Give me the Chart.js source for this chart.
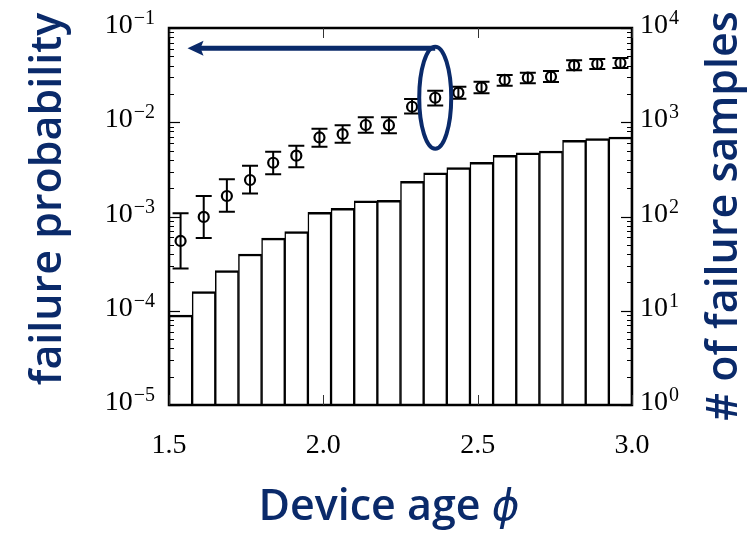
<!DOCTYPE html>
<html>
<head>
<meta charset="utf-8">
<script src="https://cdn.jsdelivr.net/npm/chart.js@4/dist/chart.umd.min.js"></script>
<style>
html,body{margin:0;padding:0;background:#ffffff;}
#wrap{width:751px;height:533px;position:relative;}
</style>
</head>
<body>
<div id="wrap"><canvas id="c" width="751" height="533"></canvas></div>
<script>
// ---- data ----
const binCenters = [1.5375, 1.6125, 1.6875, 1.7625, 1.8375, 1.9125, 1.9875, 2.0625, 2.1375, 2.2125,
                    2.2875, 2.3625, 2.4375, 2.5125, 2.5875, 2.6625, 2.7375, 2.8125, 2.8875, 2.9625];
const sampleCounts = [9, 16, 26.6, 40, 59, 69, 111, 122, 147, 148,
                      236, 290, 330, 376, 446, 475, 495, 643, 669, 697];
const failProb = [5.5e-4, 9.9e-4, 1.65e-3, 2.44e-3, 3.72e-3, 4.42e-3, 6.9e-3, 7.5e-3, 9.35e-3, 9.3e-3,
                  1.46e-2, 1.82e-2, 2.06e-2, 2.35e-2, 2.81e-2, 2.97e-2, 3.04e-2, 4.02e-2, 4.15e-2, 4.25e-2];
const probLow = [2.8e-4, 5.9e-4, 1.12e-3, 1.75e-3, 2.8e-3, 3.33e-3, 5.5e-3, 6.07e-3, 7.75e-3, 7.63e-3,
                 1.24e-2, 1.51e-2, 1.78e-2, 2.03e-2, 2.44e-2, 2.59e-2, 2.67e-2, 3.56e-2, 3.67e-2, 3.76e-2];
const probHigh = [1.08e-3, 1.65e-3, 2.48e-3, 3.46e-3, 4.87e-3, 5.64e-3, 8.55e-3, 9.29e-3, 1.13e-2, 1.13e-2,
                  1.77e-2, 2.16e-2, 2.38e-2, 2.69e-2, 3.17e-2, 3.36e-2, 3.5e-2, 4.54e-2, 4.69e-2, 4.81e-2];
const xTicks = [1.5, 2.0, 2.5, 3.0];
const xTickLabels = ['1.5', '2.0', '2.5', '3.0'];
const probTickExps = [-5, -4, -3, -2, -1];
const countTickExps = [0, 1, 2, 3, 4];
const xTitle = 'Device age ';
const xTitleSymbol = '\u03D5';
const leftTitle = 'failure probability';
const rightTitle = '# of failure samples';
const highlightIndex = 11;      // point circled by the annotation
const arrowTipX = 1.56;         // x value the arrow points to

const NAVY = '#0a2a6a';
const SERIF = '"Liberation Serif", "DejaVu Serif", serif';
const SANS = '"Open Sans", "Noto Sans", sans-serif';
const TITLE_FONT = '600 43px ' + SANS;

function drawPow(ctx, exp, x, y, align) {
  const base = '10';
  const sup = exp < 0 ? '\u2212' + Math.abs(exp) : String(exp);
  ctx.font = '28px ' + SERIF;
  const wb = ctx.measureText(base).width;
  ctx.font = '20px ' + SERIF;
  const ws = ctx.measureText(sup).width;
  let x0 = align === 'right' ? x - wb - ws - 1 : x;
  ctx.textAlign = 'left';
  ctx.textBaseline = 'alphabetic';
  ctx.font = '28px ' + SERIF;
  ctx.fillText(base, x0, y + 5);
  ctx.font = '20px ' + SERIF;
  ctx.fillText(sup, x0 + wb + 1, y - 4);
}

const decorPlugin = {
  id: 'decor',
  afterDatasetsDraw(chart) {
    const ctx = chart.ctx;
    const xs = chart.scales.x, yp = chart.scales.yP;
    ctx.save();
    ctx.strokeStyle = '#000';
    ctx.lineWidth = 2;
    for (let i = 0; i < binCenters.length; i++) {
      const px = xs.getPixelForValue(binCenters[i]);
      const y1 = yp.getPixelForValue(probLow[i]);
      const y2 = yp.getPixelForValue(probHigh[i]);
      ctx.beginPath();
      ctx.moveTo(px, y1); ctx.lineTo(px, y2);
      ctx.moveTo(px - 8, y1); ctx.lineTo(px + 8, y1);
      ctx.moveTo(px - 8, y2); ctx.lineTo(px + 8, y2);
      ctx.stroke();
    }
    ctx.restore();
  },
  afterDraw(chart) {
    const ctx = chart.ctx;
    const a = chart.chartArea;
    const xs = chart.scales.x, yp = chart.scales.yP, yn = chart.scales.yN;
    ctx.save();
    // frame
    ctx.strokeStyle = '#000';
    ctx.lineWidth = 2.5;
    ctx.strokeRect(a.left, a.top, a.right - a.left, a.bottom - a.top);
    // x ticks (inward, bottom & top)
    ctx.lineWidth = 1;
    ctx.strokeStyle = '#333';
    xTicks.forEach(v => {
      const px = Math.round(xs.getPixelForValue(v)) + 0.5;
      ctx.beginPath();
      ctx.moveTo(px, a.bottom); ctx.lineTo(px, a.bottom - 10);
      ctx.moveTo(px, a.top); ctx.lineTo(px, a.top + 10);
      ctx.stroke();
    });
    // log ticks
    function logTicks(scale, exps, xEdge, dir) {
      exps.forEach(e => {
        const major = Math.pow(10, e);
        const py = Math.round(scale.getPixelForValue(major)) + 0.5;
        ctx.lineWidth = 1.2;
        ctx.beginPath(); ctx.moveTo(xEdge, py); ctx.lineTo(xEdge + dir * 11, py); ctx.stroke();
        if (e < exps[exps.length - 1]) {
          for (let k = 2; k <= 9; k++) {
            const pm = Math.round(scale.getPixelForValue(k * major)) + 0.5;
            ctx.lineWidth = 1;
            ctx.beginPath(); ctx.moveTo(xEdge, pm); ctx.lineTo(xEdge + dir * 5, pm); ctx.stroke();
          }
        }
      });
    }
    ctx.strokeStyle = '#000';
    logTicks(yp, probTickExps, a.left, 1);
    logTicks(yn, countTickExps, a.right, -1);
    // tick labels
    ctx.fillStyle = '#000';
    ctx.font = '28px ' + SERIF;
    ctx.textAlign = 'center';
    ctx.textBaseline = 'alphabetic';
    xTicks.forEach((v, i) => ctx.fillText(xTickLabels[i], xs.getPixelForValue(v), a.bottom + 48));
    probTickExps.forEach(e => drawPow(ctx, e, a.left - 14, yp.getPixelForValue(Math.pow(10, e)), 'right'));
    countTickExps.forEach(e => drawPow(ctx, e, a.right + 8, yn.getPixelForValue(Math.pow(10, e)), 'left'));
    // axis titles
    ctx.fillStyle = NAVY;
    ctx.font = TITLE_FONT;
    ctx.textAlign = 'center';
    ctx.textBaseline = 'alphabetic';
    ctx.save();
    ctx.translate(61, 199);
    ctx.rotate(-Math.PI / 2);
    ctx.fillText(leftTitle, 0, 0);
    ctx.restore();
    ctx.save();
    ctx.translate(737, 216);
    ctx.rotate(-Math.PI / 2);
    ctx.fillText(rightTitle, 0, 0);
    ctx.restore();
    // x title
    ctx.font = TITLE_FONT;
    const w1 = ctx.measureText(xTitle).width;
    ctx.font = 'italic 42px "DejaVu Sans", sans-serif';
    const w2 = ctx.measureText(xTitleSymbol).width;
    const x0 = 389 - (w1 + w2) / 2;
    ctx.textAlign = 'left';
    ctx.font = TITLE_FONT;
    ctx.fillText(xTitle, x0, 520);
    ctx.font = 'italic 42px "DejaVu Sans", sans-serif';
    ctx.fillText(xTitleSymbol, x0 + w1, 520);
    // annotation: ellipse around a point and arrow to left axis
    const cx = xs.getPixelForValue(binCenters[highlightIndex]);
    const cy = yp.getPixelForValue(failProb[highlightIndex]);
    const rx = 16, ry = 51;
    ctx.strokeStyle = NAVY;
    ctx.fillStyle = NAVY;
    ctx.lineWidth = 4;
    ctx.beginPath();
    ctx.ellipse(cx, cy, rx, ry, 0, 0, Math.PI * 2);
    ctx.stroke();
    const ay = cy - ry + 1.5;
    const tip = xs.getPixelForValue(arrowTipX);
    ctx.lineWidth = 5;
    ctx.beginPath();
    ctx.moveTo(cx, ay); ctx.lineTo(tip + 12, ay);
    ctx.stroke();
    ctx.beginPath();
    ctx.moveTo(tip, ay);
    ctx.lineTo(tip + 16, ay - 7.5);
    ctx.lineTo(tip + 13, ay);
    ctx.lineTo(tip + 16, ay + 7.5);
    ctx.closePath();
    ctx.fill();
    ctx.restore();
  }
};

const ctx = document.getElementById('c').getContext('2d');
new Chart(ctx, {
  type: 'bar',
  data: {
    datasets: [
      {
        type: 'scatter',
        label: leftTitle,
        data: binCenters.map((x, i) => ({ x: x, y: failProb[i] })),
        yAxisID: 'yP',
        pointStyle: 'circle',
        pointRadius: 5,
        borderColor: '#000',
        backgroundColor: 'rgba(0,0,0,0)',
        borderWidth: 2.2,
        order: 1
      },
      {
        type: 'bar',
        label: rightTitle,
        data: binCenters.map((x, i) => ({ x: x, y: sampleCounts[i] })),
        yAxisID: 'yN',
        backgroundColor: '#ffffff',
        borderColor: '#000',
        borderWidth: { top: 2.5, left: 1.5, right: 1.5, bottom: 0 },
        borderSkipped: false,
        barPercentage: 1.0,
        categoryPercentage: 1.0,
        order: 2
      }
    ]
  },
  options: {
    responsive: false,
    animation: false,
    events: [],
    layout: { padding: { top: 28, left: 0, right: 0, bottom: 0 } },
    plugins: { legend: { display: false }, tooltip: { enabled: false } },
    scales: {
      x: {
        type: 'linear', min: 1.5, max: 3.0, offset: false,
        grid: { display: false, offset: false },
        ticks: { display: false },
        border: { display: false },
        afterFit(s) { s.height = 128; }
      },
      yP: {
        type: 'logarithmic', position: 'left', min: 1e-5, max: 1e-1,
        grid: { display: false },
        ticks: { display: false },
        border: { display: false },
        afterFit(s) { s.width = 169; }
      },
      yN: {
        type: 'logarithmic', position: 'right', min: 1, max: 1e4,
        grid: { display: false },
        ticks: { display: false },
        border: { display: false },
        afterFit(s) { s.width = 119; }
      }
    }
  },
  plugins: [decorPlugin]
});
</script>
</body>
</html>
